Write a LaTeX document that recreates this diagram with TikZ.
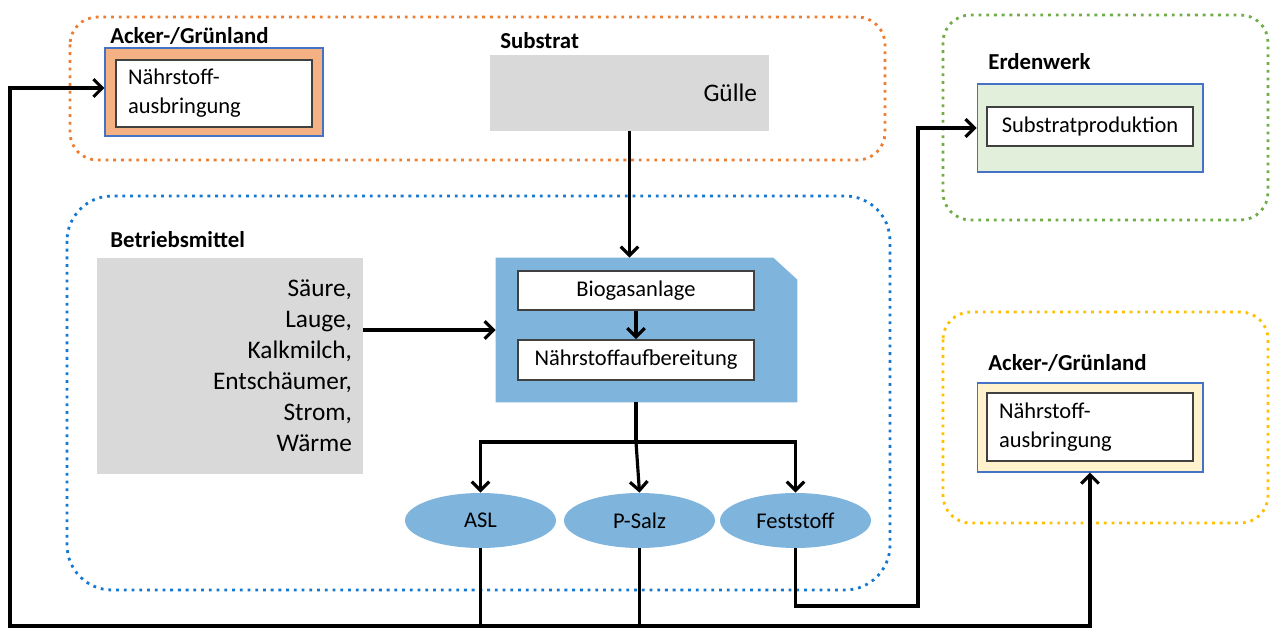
\documentclass[tikz,border=0pt]{standalone}
\usepackage{fontspec}
\setmainfont{Carlito}
\usetikzlibrary{shapes.geometric,arrows.meta}

\definecolor{dotorange}{RGB}{237,125,49}
\definecolor{dotblue}{RGB}{20,120,210}
\definecolor{dotgreen}{RGB}{112,173,71}
\definecolor{dotyellow}{RGB}{255,192,0}
\definecolor{fillorange}{RGB}{244,177,131}
\definecolor{fillgreen}{RGB}{226,239,218}
\definecolor{fillyellow}{RGB}{255,242,204}
\definecolor{fillgray}{RGB}{217,217,217}
\definecolor{fillblue}{RGB}{127,180,221}
\definecolor{edgeblue}{RGB}{68,114,196}

\tikzset{
  region/.style={line width=1.6pt, dash pattern=on 1.6pt off 2.8pt, rounded corners=0.55cm},
  titel/.style={font=\fontsize{13}{15}\selectfont\bfseries, anchor=base west, inner sep=0pt},
  outerbox/.style={draw=edgeblue, line width=0.6pt, minimum width=4.36cm, minimum height=1.76cm},
  innerbox/.style={draw=black!75, fill=white, line width=1pt, inner xsep=0.24cm, inner ysep=0pt,
    font=\fontsize{12.8}{16.5}\selectfont},
  product/.style={ellipse, fill=fillblue, minimum width=3.02cm, minimum height=1.1cm,
    font=\fontsize{12.8}{15}\selectfont},
  flow/.style={-{Straight Barb[length=5pt,width=10pt]}, line width=1.8pt},
}

\begin{document}
\begin{tikzpicture}[x=0.02cm, y=-0.02cm]
   \useasboundingbox (0,0) rectangle (1275,628);

   % Acker-/Gruenland oben links + Substrat
   \draw[region, dotorange] (70,17) rectangle (885,160);
   \node[titel] at (110,44) {Acker-/Grünland};
   \node[outerbox, fill=fillorange] (acker) at (214,92) {};
   \node[innerbox, text width=3.44cm, minimum height=1.34cm, align=left] (ackerin) at (214,93.5) {Nährstoff-\\ausbringung};

   \node[titel] at (500,49) {Substrat};
   \node[fill=fillgray, text width=5.1cm, inner xsep=0.24cm, minimum height=1.52cm, align=right,
     font=\fontsize{14.4}{17.6}\selectfont] (guelle) at (629.5,93) {Gülle};

   % Betriebsmittel + Anlage
   \draw[region, dotblue, rounded corners=0.9cm] (67,196) rectangle (890,590);
   \node[titel] at (110,248) {Betriebsmittel};
   \node[fill=fillgray, text width=4.88cm, inner xsep=0.22cm, minimum height=4.32cm, align=right,
     font=\fontsize{14.4}{17.6}\selectfont] (mittel) at (230,366) {Säure,\\Lauge,\\Kalkmilch,\\Entschäumer,\\Strom,\\Wärme};

   \node[minimum width=6.02cm, minimum height=2.88cm, inner sep=0pt] (bga) at (646.5,330) {};
   \fill[fillblue] (bga.south west) -- (bga.north west) -- ([xshift=-0.48cm]bga.north east)
     -- ([yshift=-0.44cm]bga.north east) -- (bga.south east) -- cycle;
   \node[innerbox, minimum width=4.72cm, minimum height=0.78cm] (bio) at (636,290.5) {Biogasanlage};
   \node[innerbox, minimum width=4.72cm, minimum height=0.8cm] (nae) at (636,360) {Nährstoffaufbereitung};

   \draw[flow] (guelle.south) -- (guelle.south |- bga.north);
   \draw[flow] (mittel.east |- bga.west) -- (bga.west);
   \draw[flow] (bio) -- (nae);

   % Produkte
   \node[product] (asl) at (480.5,520.5) {ASL};
   \node[product] (psalz) at (639.5,520.5) {P-Salz};
   \node[product] (fest) at (795.5,520.5) {Feststoff};

   \coordinate (split) at (636,442);
   \draw[line width=1.8pt] (nae.south |- bga.south) -- (split);
   \draw[flow] (split) -| (asl.north);
   \draw[flow] (split) -- (psalz.north);
   \draw[flow] (split) -| (fest.north);

   % Erdenwerk
   \draw[region, dotgreen] (943,15) rectangle (1268,220);
   \node[titel] at (988,70) {Erdenwerk};
   \node[outerbox, fill=fillgreen, minimum width=4.52cm] (erd) at (1090,128) {};
   \node[innerbox, minimum width=4.12cm, minimum height=0.78cm] (subprod) at (1090,126.5) {Substratproduktion};

   % Acker-/Gruenland rechts
   \draw[region, dotyellow] (943,312) rectangle (1268,523);
   \node[titel] at (988,370) {Acker-/Grünland};
   \node[outerbox, fill=fillyellow, minimum width=4.52cm, minimum height=1.78cm] (feld) at (1090,427.5) {};
   \node[innerbox, text width=3.64cm, minimum height=1.36cm, align=left] (feldin) at (1090,427) {Nährstoff-\\ausbringung};

   % Rueckfuehrung
   \coordinate (ecke) at (10,626);
   \coordinate (knick) at (918,606);
   \draw[flow] (asl.south) |- (ecke) |- ([yshift=0.08cm]acker.west);
   \draw[flow] (psalz.south) |- (asl.south |- ecke) -| (feld.south);
   \draw[flow] (fest.south) |- (knick) |- (erd.west);
\end{tikzpicture}
\end{document}
